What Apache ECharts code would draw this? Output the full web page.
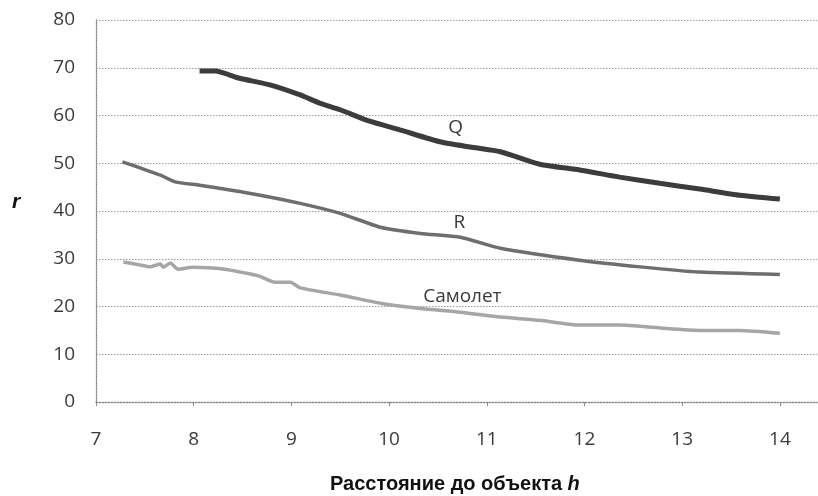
<!DOCTYPE html>
<html><head><meta charset="utf-8">
<script src="https://cdn.jsdelivr.net/npm/echarts@6/dist/echarts.min.js"></script>
<style>html,body{margin:0;padding:0;background:#fff}#c{width:818px;height:496px}</style>
</head><body><div id="c"></div>
<script>
const xTicks = [7, 8, 9, 10, 11, 12, 13, 14];
const yTicks = [0, 10, 20, 30, 40, 50, 60, 70, 80];
const qX = [8.06, 8.22, 8.47, 8.78, 9.09, 9.29, 9.50, 9.80, 10.11, 10.52, 10.83, 11.14, 11.54, 11.95, 12.36, 12.77, 13.18, 13.59, 14.0];
const qY = [69.3, 69.3, 67.8, 66.4, 64.3, 62.6, 61.2, 58.8, 57.0, 54.5, 53.4, 52.4, 49.8, 48.6, 47.1, 45.8, 44.6, 43.3, 42.5];
const rX = [7.27, 7.40, 7.66, 7.81, 8.06, 8.37, 8.68, 9.09, 9.50, 9.91, 10.32, 10.73, 11.14, 11.95, 12.57, 13.18, 14.0];
const rY = [50.3, 49.4, 47.5, 46.1, 45.4, 44.4, 43.3, 41.6, 39.5, 36.6, 35.3, 34.5, 32.2, 29.7, 28.3, 27.2, 26.7];
const sX = [7.28, 7.45, 7.55, 7.66, 7.69, 7.76, 7.84, 7.99, 8.32, 8.53, 8.68, 8.83, 8.99, 9.09, 9.50, 9.91, 10.32, 10.73, 11.14, 11.54, 11.95, 12.36, 12.77, 13.18, 13.59, 14.0];
const sY = [29.3, 28.7, 28.3, 28.9, 28.2, 29.1, 27.8, 28.2, 27.8, 27.0, 26.3, 25.1, 25.1, 23.9, 22.4, 20.7, 19.6, 18.8, 17.8, 17.1, 16.1, 16.1, 15.5, 15.0, 15.0, 14.4];
const seriesNames = ['Q', 'R', 'Самолет'];
const labelPos = [[10.68, 57.4], [10.72, 37.5], [10.75, 22.1]];
const zip = (a, b) => a.map((v, i) => [v, b[i]]);
const colors = ['#3c3c3c', '#6e6e6e', '#a6a6a6'];
const widths = [5, 3.5, 3.5];
const datas = [zip(qX, qY), zip(rX, rY), zip(sX, sY)];
const font = '"Open Sans", sans-serif';
const chart = echarts.init(document.getElementById('c'));
chart.setOption({
  animation: false,
  grid: {left: 96, top: 20, right: 1, bottom: 94, containLabel: false},
  xAxis: {
    type: 'value', min: 7, max: 14.38, interval: 1,
    axisLine: {show: true, lineStyle: {color: '#8a8a8a', type: [1.5, 1.5], width: 1.3}},
    axisTick: {show: true, length: 4, lineStyle: {color: '#8a8a8a'}, customValues: xTicks},
    axisLabel: {customValues: xTicks, margin: 28, fontSize: 19, color: '#3a3a3a', fontFamily: font},
    splitLine: {show: false}
  },
  yAxis: {
    type: 'value', min: 0, max: 80, interval: 10,
    axisLine: {show: true, lineStyle: {color: '#8a8a8a', type: [1.5, 1.5], width: 1.3}},
    axisTick: {show: false},
    axisLabel: {margin: 21, fontSize: 19, color: '#3a3a3a', fontFamily: font},
    splitLine: {show: true, lineStyle: {color: '#9a9a9a', type: [1.5, 1.5], width: 1.2}}
  },
  graphic: [
    {type: 'text', left: 330, top: 474, style: {text: '{a|Расстояние до объекта }{b|h}', rich: {
      a: {fontSize: 20, fontWeight: 'bold', fontFamily: '"Liberation Sans", Arial', fill: '#111'},
      b: {fontSize: 20, fontWeight: 'bold', fontStyle: 'italic', fontFamily: '"Liberation Sans", Arial', fill: '#111'}}}},
    {type: 'text', left: 12, top: 192, style: {text: 'r', fontSize: 21, fontWeight: 'bold', fontStyle: 'italic', fontFamily: '"Liberation Sans", Arial', fill: '#111'}}
  ],
  series: datas.map((d, i) => ({
    type: 'line', name: seriesNames[i], data: d, showSymbol: false, smooth: 0.2,
    lineStyle: {color: colors[i], width: widths[i]},
    markPoint: {symbol: 'circle', symbolSize: 0, silent: true,
      label: {show: true, formatter: seriesNames[i], fontSize: 19, color: '#3a3a3a', fontFamily: font, position: 'inside'},
      data: [{coord: labelPos[i]}]}
  }))
});
</script></body></html>
